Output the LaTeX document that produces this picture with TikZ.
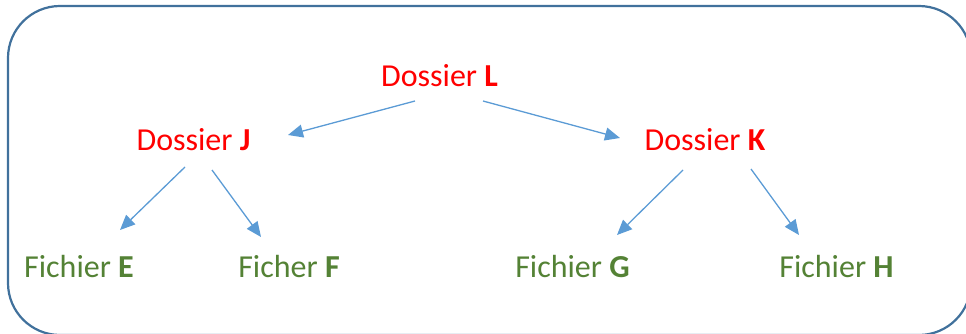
\documentclass[tikz,border=0pt]{standalone}
\usepackage{fontspec}
\setmainfont{Carlito}
\usetikzlibrary{arrows.meta,calc}
\definecolor{frameblue}{HTML}{41719C}
\definecolor{arrowblue}{HTML}{5B9BD5}
\definecolor{dgreen}{HTML}{548235}
\begin{document}
\begin{tikzpicture}[x=1pt,y=1pt,
  folder/.style={anchor=base,inner sep=0pt,text=red,font=\fontsize{32}{38}\selectfont},
  file/.style={anchor=base,inner sep=0pt,text=dgreen,font=\fontsize{32}{38}\selectfont},
  arr/.style={draw=arrowblue,line width=1.3pt,-{Triangle[length=15pt,width=13pt]},arrowblue},
  frame/.style={draw=frameblue,line width=2.2pt,rounded corners=52pt}]
\useasboundingbox (0,0) rectangle (966,333);
\draw[frame] (8,327) rectangle (971,-2);
\node[folder] (L) at (439.5,247) {Dossier \textbf{L}};
\node[folder] (J) at (193.5,183) {Dossier \textbf{J}};
\node[folder] (K) at (705,183) {Dossier \textbf{K}};
\node[file] (E) at (79,56) {Fichier \textbf{E}};
\node[file] (F) at (289,56) {Ficher \textbf{F}};
\node[file] (G) at (572.5,56) {Fichier \textbf{G}};
\node[file] (H) at (836.5,56) {Fichier \textbf{H}};
\draw[arr] ($(L.base)+(-24.5,-15)$) -- ($(J.base)+(94.5,15)$);
\draw[arr] ($(L.base)+(43.5,-15)$) -- ($(K.base)+(-85,12)$);
\draw[arr] ($(J.base)+(-8.5,-17)$) -- ($(E.base)+(41,47)$);
\draw[arr] ($(J.base)+(18.5,-20)$) -- ($(F.base)+(-28,40)$);
\draw[arr] ($(K.base)+(-22,-20)$) -- ($(G.base)+(44.5,42)$);
\draw[arr] ($(K.base)+(46,-19)$) -- ($(H.base)+(-37.5,42)$);
\end{tikzpicture}
\end{document}
